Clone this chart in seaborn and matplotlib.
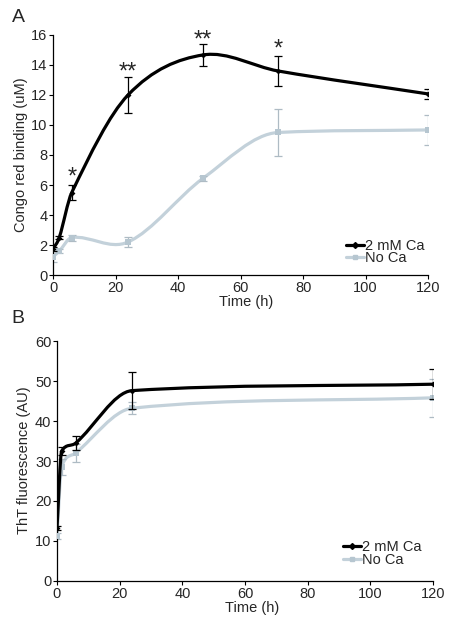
import numpy as np
import pandas as pd
import matplotlib
matplotlib.use("Agg")
import matplotlib.pyplot as plt
from matplotlib.path import Path
from matplotlib.patches import PathPatch
from matplotlib.lines import Line2D
import seaborn as sns

# ==============================
# Data
# ==============================
# Panel A - Congo red binding
time_a = [0, 2, 6, 24, 48, 72, 120]
ca_a = [1.73, 2.5, 5.5, 12.0, 14.67, 13.6, 12.07]
ca_a_err = [0.15, 0.1, 0.5, 1.2, 0.75, 1.0, 0.35]
noca_a = [1.22, 1.6, 2.5, 2.2, 6.45, 9.5, 9.67]
noca_a_err = [0.35, 0.15, 0.2, 0.35, 0.15, 1.55, 1.0]

# significance marks for panel A
star_time = [6, 24, 48, 72]
star_text = ["*", "**", "**", "*"]
star_y = [6.1, 13.1, 15.2, 14.6]

# Panel B - ThT fluorescence
time_b = [0, 1.5, 6, 24, 120]
ca_b = [13.3, 32.5, 34.5, 47.6, 49.2]
ca_b_err = [0.5, 1.0, 1.7, 4.6, 3.8]
noca_b = [11.2, 28.6, 32.0, 43.2, 45.8]
noca_b_err = [0.8, 2.0, 2.3, 1.5, 4.8]

series_labels = ["2 mM Ca", "No Ca"]

# ==============================
# Style
# ==============================
sns.set_theme(style="white")
plt.rcParams["font.family"] = ["Liberation Sans", "DejaVu Sans"]
plt.rcParams["font.size"] = 10

BLACK = "#000000"
GREY = "#c3d1da"
GREY_MARK = "#b6c6d0"
GREY_ERR = "#aebbc4"


def smooth_path(x, y):
    # smoothed line: cubic Bezier through every point,
    # slopes from neighbours, limited where the data is monotone
    pts = np.column_stack([x, y]).astype(float)
    n = len(pts)
    d = np.diff(pts[:, 1]) / np.diff(pts[:, 0])

    def slope(i):
        a, b = max(i - 1, 0), min(i + 1, n - 1)
        m = (pts[b, 1] - pts[a, 1]) / (pts[b, 0] - pts[a, 0])
        if 0 < i < n - 1 and d[i - 1] * d[i] > 0:
            cap = 3 * min(abs(d[i - 1]), abs(d[i]))
            m = np.sign(m) * min(abs(m), cap)
        return m

    verts = [pts[0]]
    codes = [Path.MOVETO]
    for i in range(n - 1):
        p1, p2 = pts[i], pts[i + 1]
        h = (p2[0] - p1[0]) / 3
        c1 = p1 + np.array([h, slope(i) * h])
        c2 = p2 - np.array([h, slope(i + 1) * h])
        verts += [c1, c2, p2]
        codes += [Path.CURVE4] * 3
    return Path(verts, codes)


def draw_series(ax, t, y, err, color, mcolor, ecolor, marker, ms, z):
    ax.add_patch(PathPatch(smooth_path(t, y), facecolor="none", edgecolor=color,
                           lw=2.3, zorder=z, capstyle="round"))
    ax.errorbar(t, y, yerr=err, fmt="none", ecolor=ecolor, elinewidth=0.9,
                capsize=2.8, capthick=0.9, zorder=z + 0.5)
    df = pd.DataFrame({"t": t, "y": y})
    sns.scatterplot(data=df, x="t", y="y", marker=marker, color=mcolor, s=ms,
                    edgecolor=mcolor, linewidth=0, ax=ax, zorder=z + 1)


def style_axes(ax, ylim, yticks, ylabel):
    ax.set_xlim(0, 120)
    ax.set_ylim(*ylim)
    ax.set_xticks(range(0, 121, 20))
    ax.set_yticks(yticks)
    for s in ["top", "right"]:
        ax.spines[s].set_visible(False)
    for s in ["left", "bottom"]:
        ax.spines[s].set_color("black")
        ax.spines[s].set_linewidth(0.9)
    ax.tick_params(axis="both", direction="out", length=3, width=0.8,
                   color="black", labelsize=10.5, pad=1, left=True, bottom=True)
    ax.set_xlabel("Time (h)", fontsize=10.5)
    ax.set_ylabel(ylabel, fontsize=10.5)
    ax.grid(False)


def add_legend(ax, anchor):
    handles = [
        Line2D([], [], color=BLACK, lw=2.3, marker="D", ms=3, mfc=BLACK, mec=BLACK),
        Line2D([], [], color=GREY, lw=2.3, marker="s", ms=3.5, mfc=GREY_MARK, mec=GREY_MARK),
    ]
    ax.legend(handles, series_labels, loc="center left", bbox_to_anchor=anchor,
              frameon=False, fontsize=10.5, handlelength=1.25, handletextpad=0.05,
              labelspacing=-0.1, borderpad=0, borderaxespad=0)


fig = plt.figure(figsize=(4.57, 6.19), dpi=100)
ax_a = fig.add_axes([0.116, 0.5557, 0.821, 0.3878])
ax_b = fig.add_axes([0.1247, 0.0614, 0.8228, 0.3877])

# ==============================
# Panel A
# ==============================
draw_series(ax_a, time_a, noca_a, noca_a_err, GREY, GREY_MARK, GREY_ERR, "s", 14, 2)
draw_series(ax_a, time_a, ca_a, ca_a_err, BLACK, BLACK, BLACK, "D", 9, 4)
style_axes(ax_a, (0, 16), range(0, 17, 2), "Congo red binding (uM)")
for t, s, y in zip(star_time, star_text, star_y):
    ax_a.text(t, y, s, ha="center", va="baseline", fontsize=17)
ax_a.yaxis.set_label_coords(-0.066, 0.5)
ax_a.xaxis.set_label_coords(0.515, -0.082)
add_legend(ax_a, (0.781, 0.096))

# ==============================
# Panel B
# ==============================
draw_series(ax_b, time_b, noca_b, noca_b_err, GREY, GREY_MARK, GREY_ERR, "s", 14, 2)
draw_series(ax_b, time_b, ca_b, ca_b_err, BLACK, BLACK, BLACK, "D", 9, 4)
style_axes(ax_b, (0, 60), range(0, 61, 10), "ThT fluorescence (AU)")
ax_b.yaxis.set_label_coords(-0.068, 0.504)
ax_b.xaxis.set_label_coords(0.519, -0.085)
add_legend(ax_b, (0.761, 0.115))

fig.text(0.04, 0.972, "A", fontsize=14, ha="center", va="center")
fig.text(0.04, 0.486, "B", fontsize=14, ha="center", va="center")

fig.savefig("out.png", dpi=100)
